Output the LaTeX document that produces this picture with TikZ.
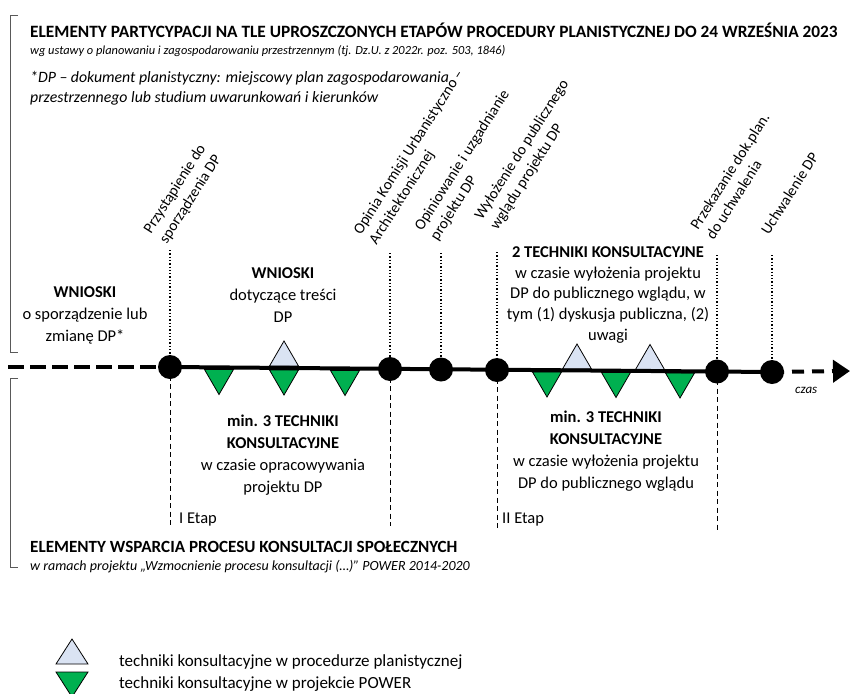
\documentclass[tikz,border=0pt]{standalone}
\usepackage{fontspec}
\setmainfont{Carlito}
\usetikzlibrary{arrows.meta}
\definecolor{tribl}{HTML}{DAE3F3}
\definecolor{trigr}{HTML}{00B050}
\definecolor{brk}{HTML}{595959}
\begin{document}
\begin{tikzpicture}[x=1pt,y=-1pt,
  lbl/.style={rotate=57.5,anchor=south west,align=left,inner sep=0pt,font=\fontsize{15.3}{18.6}\selectfont},
  txt/.style={align=center,inner sep=0pt,font=\fontsize{16.5}{22}\selectfont},
  dotline/.style={line width=1.3pt,dotted},
  dashline/.style={line width=1pt,dash pattern=on 5pt off 3.5pt},
  dot/.style={circle,fill=black,minimum size=24pt,inner sep=0pt},
  bracket/.style={brk,line width=0.8pt},
  uptri/.pic={\draw[fill=tribl,line width=0.8pt] (-14.5,0) -- (14.5,0) -- (0,-25) -- cycle;},
  downtri/.pic={\draw[fill=trigr,line width=0.8pt] (-14.5,0) -- (14.5,0) -- (0,25) -- cycle;},
  biguptri/.pic={\draw[fill=tribl,line width=0.8pt] (-16,0) -- (16,0) -- (0,-25) -- cycle;},
  bigdowntri/.pic={\draw[fill=trigr,line width=0.8pt] (-16,0) -- (16,0) -- (0,25) -- cycle;}
]
\useasboundingbox (0,0) rectangle (850,693);

% brackets
\draw[bracket] (18,15) -- (10,15) -- (10,352) -- (18,352);
\draw[bracket] (18,378) -- (10,378) -- (10,567) -- (18,567);

% header texts
\node[anchor=west,inner sep=0pt,font=\fontsize{17.3}{20}\selectfont\bfseries] (title) at (30,30) {ELEMENTY PARTYCYPACJI NA TLE UPROSZCZONYCH ETAPÓW PROCEDURY PLANISTYCZNEJ DO 24 WRZEŚNIA 2023};
\node[anchor=west,inner sep=0pt,font=\fontsize{12.4}{14}\selectfont\itshape] (sub) at (30,51) {wg ustawy o planowaniu i zagospodarowaniu przestrzennym (tj. Dz.U. z 2022r. poz. 503, 1846)};
\node[anchor=west,inner sep=0pt,align=left,font=\fontsize{15.8}{20.5}\selectfont\itshape] (dpnote) at (30,88) {*DP – dokument planistyczny: miejscowy plan zagospodarowania\\przestrzennego lub studium uwarunkowań i kierunków};

% timeline points
\coordinate (p1) at (170,367);
\coordinate (p2) at (390,369);
\coordinate (p3) at (441,369.5);
\coordinate (p4) at (497,370);
\coordinate (p5) at (717,371.5);
\coordinate (p6) at (772,372);
\coordinate (start) at (8,367);
\coordinate (end) at (850,371);

% triangles
\pic at (284,366) {uptri};
\pic at (577,369) {uptri};
\pic at (650,369.5) {uptri};
\pic at (219,369.5) {downtri};
\pic at (284,370) {downtri};
\pic at (345,370.5) {downtri};
\pic at (547,372) {downtri};
\pic at (616,372.5) {downtri};
\pic at (680,373) {downtri};

% main line
\draw[line width=4pt,dash pattern=on 16pt off 6pt] (start) -- (p1);
\draw[line width=4pt] (p1) -- (p6);
\draw[line width=4pt,dash pattern=on 12pt off 8pt,-{Triangle[length=17pt,width=22pt]}] (p6) -- (end);

% vertical guide lines
\coordinate (t1) at (170,250);
\coordinate (t2) at (390,253);
\coordinate (t3) at (441,253);
\coordinate (t4) at (497,252);
\coordinate (t5) at (717,255);
\coordinate (t6) at (772,255);
\draw[dotline] (t1) -- (p1);
\draw[dotline] (t2) -- (p2);
\draw[dotline] (t3) -- (p3);
\draw[dotline] (t4) -- (p4);
\draw[dotline] (t5) -- (p5);
\draw[dotline] (t6) -- (p6);
\coordinate (b1) at (170,526);
\coordinate (b2) at (390,526);
\coordinate (b4) at (497,528);
\coordinate (b5) at (717,532);
\draw[dashline] (p1) -- (b1);
\draw[dashline] (p2) -- (b2);
\draw[dashline] (p4) -- (b4);
\draw[dashline] (p5) -- (b5);

% dots
\node[dot] (c1) at (p1) {};
\node[dot] (c2) at (p2) {};
\node[dot] (c3) at (p3) {};
\node[dot] (c4) at (p4) {};
\node[dot] (c5) at (p5) {};
\node[dot] (c6) at (p6) {};

% rotated labels
\node[lbl] (l1) at (169,246) {Przystąpienie do\\sporządzenia DP};
\node[lbl] (l2) at (379,247) {Opinia Komisji Urbanistyczno –\\Architektonicznej};
\node[lbl] (l3) at (440,243) {Opiniowanie i uzgadnianie\\projektu DP};
\node[lbl] (l4) at (500,232) {Wyłożenie do publicznego\\wglądu projektu DP};
\node[lbl] (l5) at (714,241) {Przekazanie dok.plan.\\do uchwalenia};
\node[lbl] (l6) at (769,236) {Uchwalenie DP};

% texts above
\node[txt] (w1) at (85,315) {\textbf{WNIOSKI}\\o sporządzenie lub\\zmianę DP*};
\node[txt] (w2) at (283,295) {\textbf{WNIOSKI}\\dotyczące treści\\DP};
\node[txt,font=\fontsize{16.5}{20.8}\selectfont] (k1) at (608,295) {\textbf{2 TECHNIKI KONSULTACYJNE}\\w czasie wyłożenia projektu\\DP do publicznego wglądu, w\\tym (1) dyskusja publiczna, (2)\\uwagi};

% texts below
\node[txt] (k2) at (283,455) {\textbf{min. 3 TECHNIKI}\\\textbf{KONSULTACYJNE}\\w czasie opracowywania\\projektu DP};
\node[txt] (k3) at (606,451) {\textbf{min. 3 TECHNIKI}\\\textbf{KONSULTACYJNE}\\w czasie wyłożenia projektu\\DP do publicznego wglądu};
\node[anchor=west,inner sep=0pt,font=\fontsize{16.5}{19}\selectfont] (e1) at (179,520) {I Etap};
\node[anchor=west,inner sep=0pt,font=\fontsize{16.5}{19}\selectfont] (e2) at (502,520) {II Etap};
\node[anchor=west,inner sep=0pt,font=\fontsize{13}{15}\selectfont\itshape] (czas) at (795,390) {czas};

% bottom header
\node[anchor=west,inner sep=0pt,font=\fontsize{17.1}{20}\selectfont\bfseries] (title2) at (30,547) {ELEMENTY WSPARCIA PROCESU KONSULTACJI SPOŁECZNYCH};
\node[anchor=west,inner sep=0pt,font=\fontsize{14}{16}\selectfont\itshape] (sub2) at (30,567) {w ramach projektu „Wzmocnienie procesu konsultacji (…)” POWER 2014-2020};

% legend
\pic at (72,664) {biguptri};
\pic at (72,672) {bigdowntri};
\node[anchor=west,inner sep=0pt,font=\fontsize{17}{20}\selectfont] (leg1) at (119,662) {techniki konsultacyjne w procedurze planistycznej};
\node[anchor=west,inner sep=0pt,font=\fontsize{17}{20}\selectfont] (leg2) at (119,684) {techniki konsultacyjne w projekcie POWER};
\end{tikzpicture}
\end{document}
